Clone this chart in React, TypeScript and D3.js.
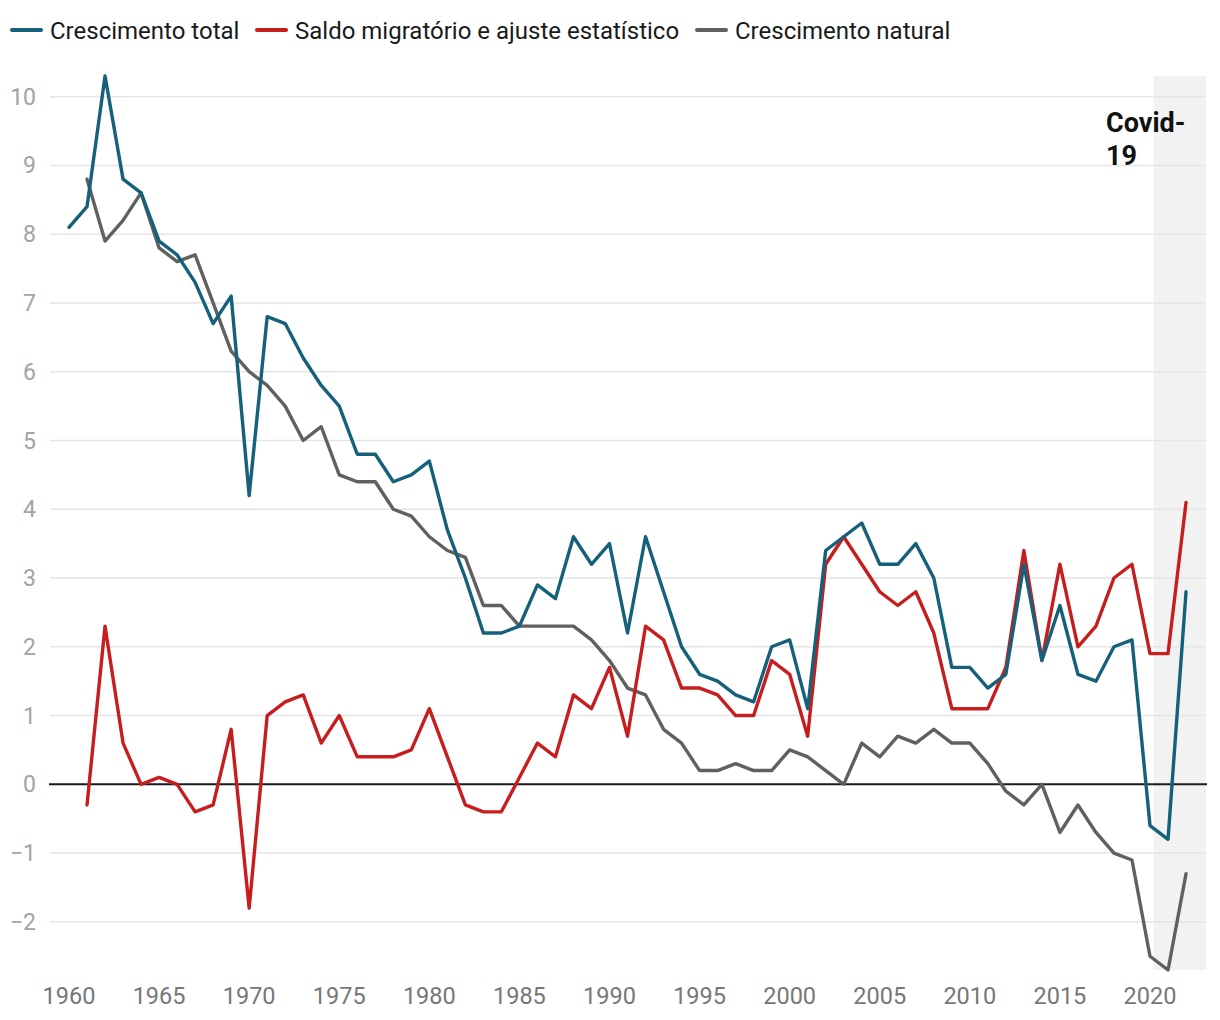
import React from "react";
import * as d3 from "d3";

const years: number[] = d3.range(1960, 2023);

const totalGrowth: (number | null)[] = [
  8.1, 8.4, 10.3, 8.8, 8.6, 7.9, 7.7, 7.3, 6.7, 7.1,
  4.2, 6.8, 6.7, 6.2, 5.8, 5.5, 4.8, 4.8, 4.4, 4.5,
  4.7, 3.7, 3.0, 2.2, 2.2, 2.3, 2.9, 2.7, 3.6, 3.2,
  3.5, 2.2, 3.6, 2.8, 2.0, 1.6, 1.5, 1.3, 1.2, 2.0,
  2.1, 1.1, 3.4, 3.6, 3.8, 3.2, 3.2, 3.5, 3.0, 1.7,
  1.7, 1.4, 1.6, 3.2, 1.8, 2.6, 1.6, 1.5, 2.0, 2.1,
  -0.6, -0.8, 2.8,
];

const migration: (number | null)[] = [
  null, -0.3, 2.3, 0.6, 0.0, 0.1, 0.0, -0.4, -0.3, 0.8,
  -1.8, 1.0, 1.2, 1.3, 0.6, 1.0, 0.4, 0.4, 0.4, 0.5,
  1.1, 0.4, -0.3, -0.4, -0.4, 0.1, 0.6, 0.4, 1.3, 1.1,
  1.7, 0.7, 2.3, 2.1, 1.4, 1.4, 1.3, 1.0, 1.0, 1.8,
  1.6, 0.7, 3.2, 3.6, 3.2, 2.8, 2.6, 2.8, 2.2, 1.1,
  1.1, 1.1, 1.7, 3.4, 1.8, 3.2, 2.0, 2.3, 3.0, 3.2,
  1.9, 1.9, 4.1,
];

const naturalGrowth: (number | null)[] = [
  null, 8.8, 7.9, 8.2, 8.6, 7.8, 7.6, 7.7, 7.0, 6.3,
  6.0, 5.8, 5.5, 5.0, 5.2, 4.5, 4.4, 4.4, 4.0, 3.9,
  3.6, 3.4, 3.3, 2.6, 2.6, 2.3, 2.3, 2.3, 2.3, 2.1,
  1.8, 1.4, 1.3, 0.8, 0.6, 0.2, 0.2, 0.3, 0.2, 0.2,
  0.5, 0.4, 0.2, 0.0, 0.6, 0.4, 0.7, 0.6, 0.8, 0.6,
  0.6, 0.3, -0.1, -0.3, 0.0, -0.7, -0.3, -0.7, -1.0, -1.1,
  -2.5, -2.7, -1.3,
];

const seriesNames = ["Crescimento total", "Saldo migratório e ajuste estatístico", "Crescimento natural"];
const seriesColors = ["#15607a", "#c71e1d", "#606060"];
const yTicks = [-2, -1, 0, 1, 2, 3, 4, 5, 6, 7, 8, 9, 10];
const xTicks = [1960, 1965, 1970, 1975, 1980, 1985, 1990, 1995, 2000, 2005, 2010, 2015, 2020];
const covidStart = 2020.2;
const covidLabel = ["Covid-", "19"];

export default function App() {
  const W = 1220, H = 1020;
  const plotLeft = 50, plotRight = 1206;
  const x = d3.scaleLinear().domain([1960, 2020]).range([69, 1150]);
  const y = d3.scaleLinear().domain([-2.7, 10.3]).range([970, 76]);
  const allSeries = [totalGrowth, migration, naturalGrowth];
  const line = d3
    .line<[number, number | null]>()
    .defined((d) => d[1] !== null)
    .x((d) => x(d[0]))
    .y((d) => y(d[1] as number));
  const font = "Roboto, 'Noto Sans', sans-serif";
  const legendX = [12, 257, 697];

  return (
    <svg width={W} height={H} style={{ position: "absolute", left: 0, top: 0, background: "#fff" }} fontFamily={font}>
      <rect x={0} y={0} width={W} height={H} fill="#fff" />
      <rect x={x(covidStart)} y={y(10.3)} width={plotRight - x(covidStart)} height={y(-2.7) - y(10.3)} fill="#f2f2f2" />
      {yTicks.filter((t) => t !== 0).map((t) => (
        <line key={t} x1={plotLeft} x2={plotRight} y1={y(t)} y2={y(t)} stroke="#e5e5e5" strokeWidth={1.5} />
      ))}
      {yTicks.map((t) => (
        <text key={"yl" + t} x={36} y={y(t)} dy="0.35em" textAnchor="end" fontSize={23} fill="#a3a3a3">
          {t < 0 ? "\u2212" + Math.abs(t) : t}
        </text>
      ))}
      {xTicks.map((t) => (
        <text key={"xl" + t} x={x(t)} y={1004} textAnchor="middle" fontSize={23.5} fill="#777">
          {t}
        </text>
      ))}
      <line x1={plotLeft - 1} x2={plotRight + 1} y1={y(0)} y2={y(0)} stroke="#1a1a1a" strokeWidth={2} />
      {[2, 1, 0].map((i) => (
        <path
          key={"s" + i}
          d={line(years.map((yr, j) => [yr, allSeries[i][j]]) as [number, number | null][]) || ""}
          fill="none"
          stroke={seriesColors[i]}
          strokeWidth={3.4}
          strokeLinejoin="round"
          strokeLinecap="round"
        />
      ))}
      {covidLabel.map((l, i) => (
        <text key={"c" + i} x={1106} y={132 + i * 33} fontSize={27} fontWeight="bold" fill="#111">
          {l}
        </text>
      ))}
      {seriesNames.map((n, i) => (
        <g key={"lg" + i} transform={`translate(${legendX[i]},30)`}>
          <line x1={0} x2={29} y1={0} y2={0} stroke={seriesColors[i]} strokeWidth={4} strokeLinecap="round" />
          <text x={38} y={0} dy="0.36em" fontSize={24} fill="#1a1a1a">
            {n}
          </text>
        </g>
      ))}
    </svg>
  );
}
